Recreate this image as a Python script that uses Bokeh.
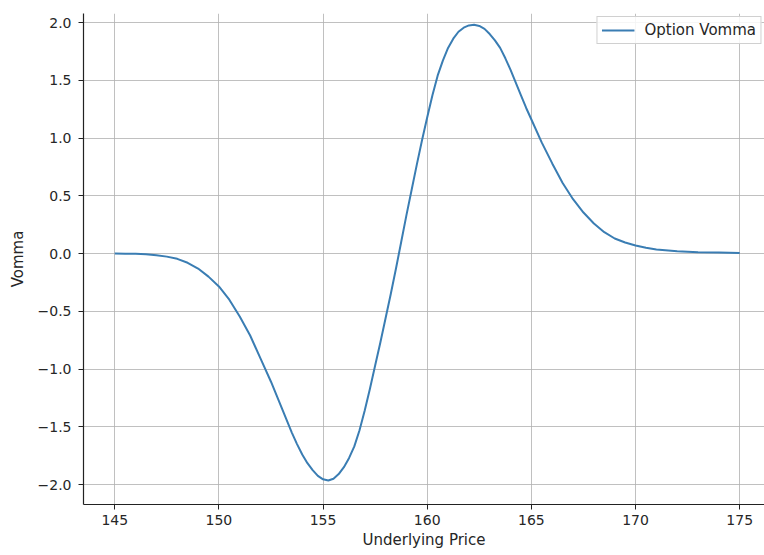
from bokeh.plotting import figure
from bokeh.models import FixedTicker, Range1d, Legend, LegendItem
from bokeh.embed import file_html
from bokeh.resources import INLINE

# Vomma of the option across a range of underlying prices
price = [145, 145.5, 146, 146.5, 147, 147.5, 148, 148.5, 149, 149.5, 150,
         150.5, 151, 151.5, 152, 152.5, 153, 153.5, 153.75, 154, 154.25,
         154.5, 154.75, 155, 155.25, 155.5, 155.75, 156, 156.25, 156.5,
         156.75, 157, 157.25, 157.5, 157.75, 158, 158.25, 158.5, 158.75,
         159, 159.25, 159.5, 159.75, 160, 160.25, 160.5, 160.75, 161,
         161.25, 161.5, 161.75, 162, 162.25, 162.5, 162.75, 163, 163.25,
         163.5, 163.75, 164, 164.25, 164.5, 164.75, 165, 165.5, 166, 166.5,
         167, 167.5, 168, 168.5, 169, 169.5, 170, 170.5, 171, 172, 173, 174,
         175]
vomma = [0.0, -0.001, -0.003, -0.007, -0.015, -0.027, -0.046, -0.08, -0.13,
         -0.20, -0.285, -0.40, -0.545, -0.71, -0.91, -1.11, -1.33, -1.55,
         -1.65, -1.74, -1.815, -1.875, -1.925, -1.955, -1.965, -1.95, -1.91,
         -1.85, -1.77, -1.67, -1.53, -1.36, -1.17, -0.97, -0.77, -0.56,
         -0.35, -0.13, 0.10, 0.33, 0.55, 0.77, 0.98, 1.18, 1.37, 1.54, 1.67,
         1.78, 1.86, 1.92, 1.955, 1.975, 1.98, 1.97, 1.945, 1.90, 1.845,
         1.78, 1.69, 1.59, 1.48, 1.37, 1.26, 1.16, 0.96, 0.78, 0.61, 0.47,
         0.355, 0.26, 0.185, 0.13, 0.095, 0.07, 0.05, 0.035, 0.02, 0.012,
         0.008, 0.005]

x_ticks = [145, 150, 155, 160, 165, 170, 175]
y_ticks = [-2.0, -1.5, -1.0, -0.5, 0.0, 0.5, 1.0, 1.5, 2.0]
y_labels = {t: f"{t:.1f}".replace("-", "\u2212") for t in y_ticks}

FONT = "DejaVu Sans"
TEXT = "#262626"

p = figure(width=764, height=555, output_backend="svg", toolbar_location=None,
           x_range=Range1d(143.5, 176.19), y_range=Range1d(-2.173, 2.078),
           min_border_left=83, min_border_right=0, min_border_top=13,
           min_border_bottom=51)
p.outline_line_color = None
p.background_fill_color = "white"
p.border_fill_color = "white"

line = p.line(price, vomma, line_color="#3a7db3", line_width=2,
              line_join="round")

for ax in (p.xaxis[0], p.yaxis[0]):
    ax.axis_line_color = "#222222"
    ax.axis_line_width = 1.2
    ax.major_tick_line_color = "#222222"
    ax.major_tick_out = 5
    ax.major_tick_in = 0
    ax.minor_tick_line_color = None
    ax.major_label_text_font = FONT
    ax.major_label_text_font_size = "14px"
    ax.major_label_text_color = TEXT
    ax.axis_label_text_font = FONT
    ax.axis_label_text_font_size = "15px"
    ax.axis_label_text_font_style = "normal"
    ax.axis_label_text_color = TEXT

p.xaxis.ticker = FixedTicker(ticks=x_ticks)
p.yaxis.ticker = FixedTicker(ticks=y_ticks)
p.yaxis.major_label_overrides = y_labels
p.xaxis.axis_label = "Underlying Price"
p.yaxis.axis_label = "Vomma"
p.xaxis.major_label_standoff = 5
p.yaxis.major_label_standoff = 7
p.xaxis.axis_label_standoff = 3
p.yaxis.axis_label_standoff = 8

p.grid.grid_line_color = "#b0b0b0"
p.grid.grid_line_width = 1
p.grid.grid_line_alpha = 0.8

legend = Legend(items=[LegendItem(label="Option Vomma", renderers=[line])],
                location="top_right")
legend.label_text_font = FONT
legend.label_text_font_size = "15px"
legend.label_text_color = TEXT
legend.border_line_color = "#d0d0d0"
legend.border_line_alpha = 1
legend.background_fill_alpha = 0.85
legend.glyph_width = 33
legend.glyph_height = 16
legend.label_height = 16
legend.margin = 3
legend.padding = 4
legend.spacing = 0
legend.label_standoff = 10
p.add_layout(legend)

open("out.html", "w").write(file_html(p, INLINE))
